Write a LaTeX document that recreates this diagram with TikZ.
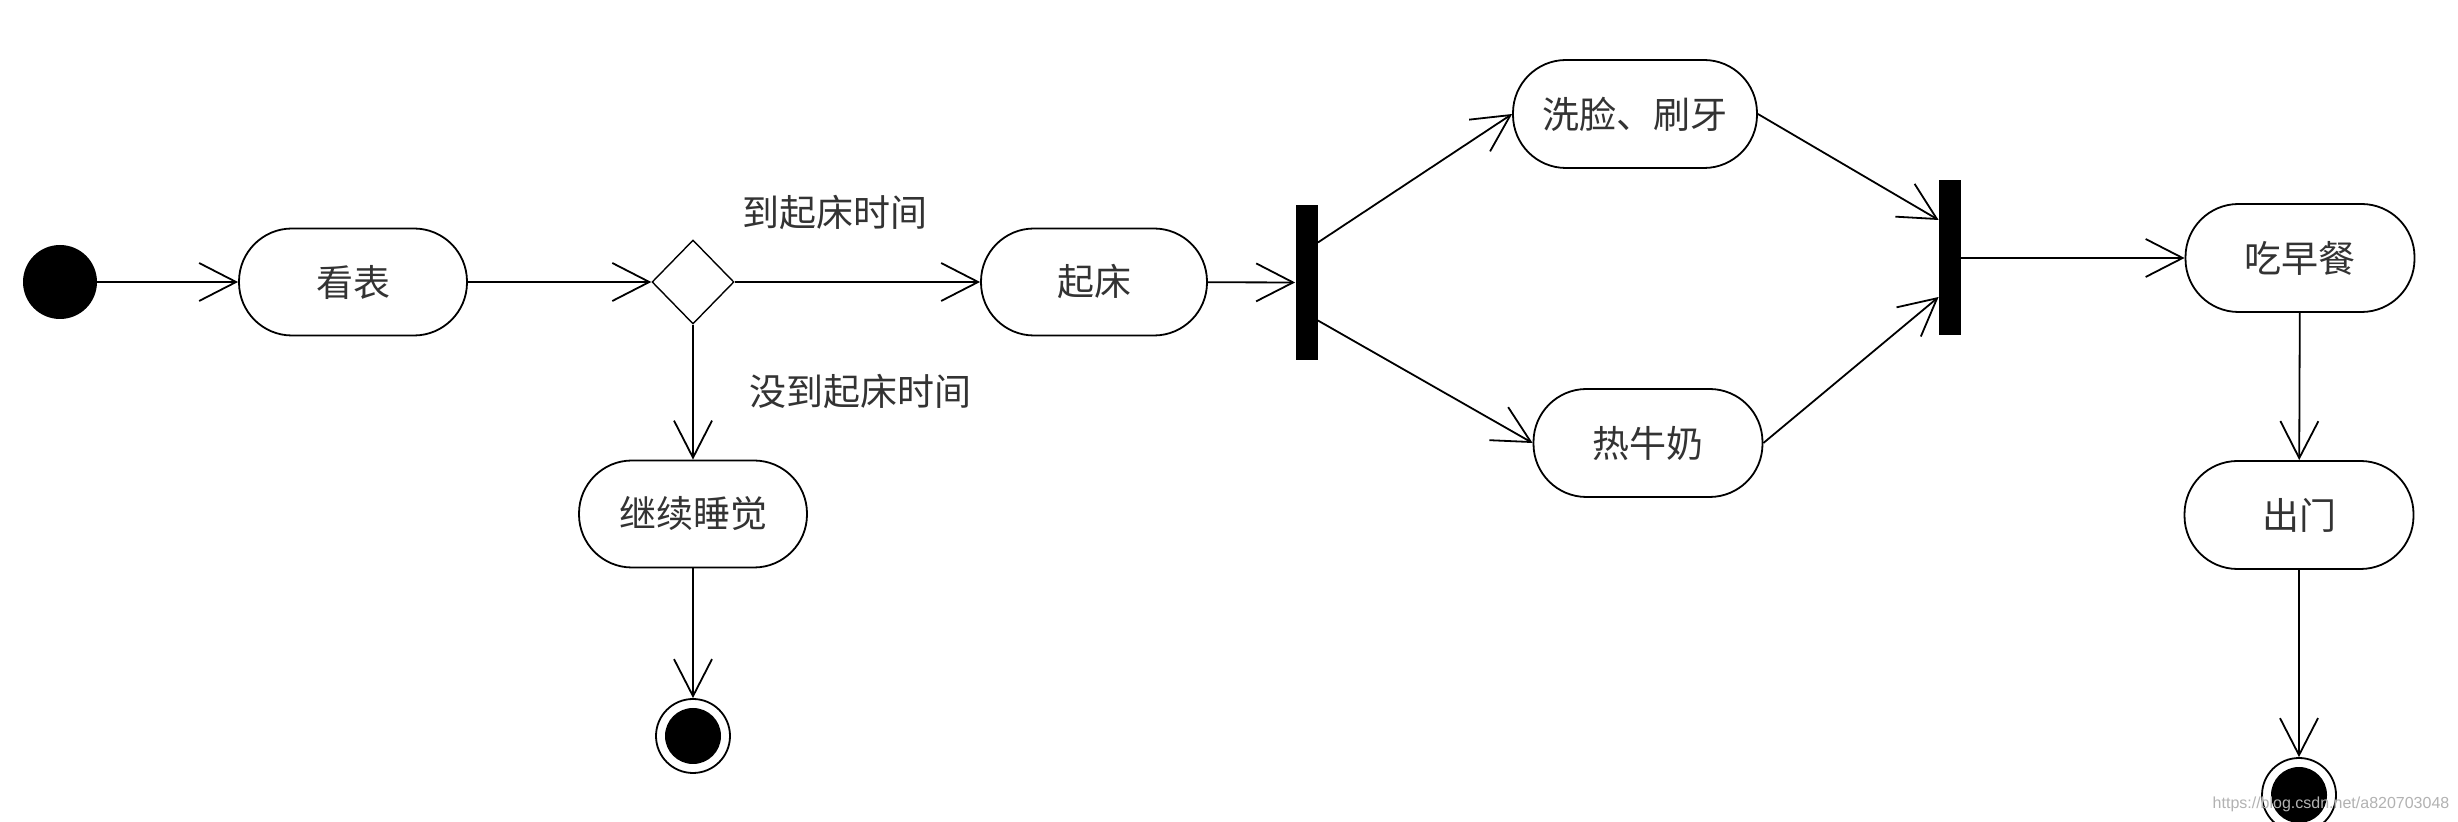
\documentclass[tikz,border=0pt]{standalone}
\usepackage{fontspec}
\setmainfont{Liberation Sans}
\newfontfamily\cjk{Noto Sans CJK SC}
\usetikzlibrary{arrows.meta,shapes.geometric,calc}
\begin{document}
\begin{tikzpicture}[x=0.5pt,y=-0.5pt,
  act/.style={draw, line width=0.9pt, rounded corners=26.5pt, minimum height=53.5pt, minimum width=114pt, inner sep=0pt, font=\cjk\fontsize{18.5}{22}\selectfont, text=black!80},
  lbl/.style={font=\cjk\fontsize{18.5}{22}\selectfont, text=black!80, inner sep=0pt},
  flow/.style={draw, line width=0.9pt, -{Straight Barb[length=18.5pt,width=19pt]}},
  startnode/.style={circle, fill=black, minimum size=37pt, inner sep=0pt},
  endnode/.style={circle, draw, line width=0.9pt, minimum size=37pt, inner sep=0pt, path picture={\fill (path picture bounding box.center) circle (14pt);}},
  bar/.style={rectangle, fill=black, minimum width=11pt, minimum height=77.5pt, inner sep=0pt},
  decision/.style={diamond, draw, line width=0.7pt, minimum width=41pt, minimum height=42pt, inner sep=0pt}
]
\useasboundingbox (0,0) rectangle (2458,822);
\clip (0,0) rectangle (2458,822);
\fill[white] (0,0) rectangle (2458,822);

\node[startnode] (start) at (60,282) {};
\node[act] (kb) at (353,282) {看表};
\node[decision] (dec) at (693,282) {};
\node[act, minimum width=113pt] (qc) at (1094,282) {起床};
\node[act] (jx) at (693,514) {继续睡觉};
\node[endnode] (end1) at (693,736) {};
\node[bar] (bar1) at (1306.5,282.5) {};
\node[act, minimum width=122pt, minimum height=54pt] (xl) at (1635,114) {洗脸、刷牙};
\node[act, minimum width=114.5pt, minimum height=54pt] (rn) at (1648,443) {热牛奶};
\node[bar] (bar2) at (1950,258) {};
\node[act, minimum width=114.5pt, minimum height=54pt] (chi) at (2300,258) {吃早餐};
\node[act, minimum width=114.5pt, minimum height=54pt] (cm) at (2299,515) {出门};
\node[endnode] (end2) at (2299,795) {};

\node[lbl] (lab1) at (835,213) {到起床时间};
\node[lbl] (lab2) at (860,392) {没到起床时间};

\draw[flow] (start) -- (kb);
\draw[flow] (kb) -- (dec);
\draw[flow] (dec) -- (qc);
\draw[flow] (dec) -- (jx);
\draw[flow] (jx) -- (end1);
\draw[flow] (qc) -- (bar1);
\draw[flow] ($(bar1.east)+(0,-40)$) -- (xl.west);
\draw[flow] ($(bar1.east)+(0,38)$) -- (rn.west);
\draw[flow] (xl.east) -- ($(bar2.west)+(0,-38)$);
\draw[flow] (rn.east) -- ($(bar2.west)+(0,39)$);
\draw[flow] (bar2) -- (chi);
\draw[flow] (chi) -- (cm);
\draw[flow] (cm) -- (end2);

\node[font=\fontsize{8}{9}\selectfont, text=black!30, inner sep=0pt] (wm) at (2331,804) {https://blog.csdn.net/a820703048};
\end{tikzpicture}
\end{document}
